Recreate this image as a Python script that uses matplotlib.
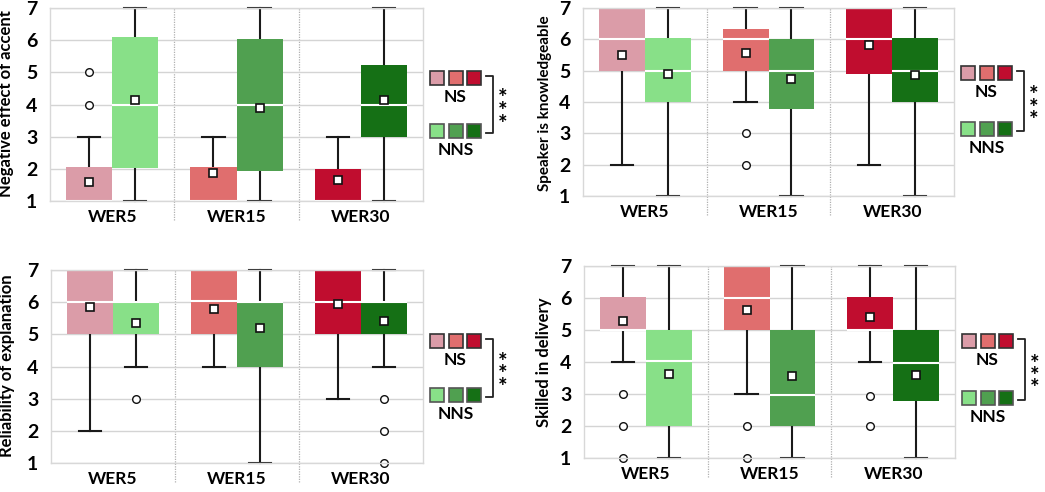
import matplotlib
matplotlib.use("Agg")
import matplotlib.pyplot as plt
from matplotlib.patches import Rectangle
from matplotlib.lines import Line2D

plt.rcParams['font.family'] = ['Lato', 'DejaVu Sans']

groups = ["WER5", "WER15", "WER30"]
ns_colors = ["#db9ca8", "#e06e6e", "#c00d2f"]
nns_colors = ["#88e088", "#50a050", "#157015"]
yticks = [1, 2, 3, 4, 5, 6, 7]

# stats per group: (q1, median, q3, whisker_low, whisker_high, mean)
accent_label = "Negative effect of accent"
accent_ns = [(1, 1, 2.06, 1, 3, 1.6), (1, 1, 2.05, 1, 3, 1.86), (1, 1, 2.01, 1, 3, 1.65)]
accent_ns_fliers = [[4, 5], [], []]
accent_nns = [(2.03, 4, 6.1, 1, 7, 4.14), (1.94, 4, 6.04, 1, 7, 3.9), (2.99, 4, 5.23, 1, 7, 4.15)]
accent_nns_fliers = [[], [], []]

know_label = "Speaker is knowledgeable"
know_ns = [(5, 6, 7, 2, 7, 5.5), (5, 6, 6.32, 4, 7, 5.56), (4.9, 6, 7, 2, 7, 5.83)]
know_ns_fliers = [[], [2, 3], []]
know_nns = [(4, 5, 6.04, 1, 7, 4.88), (3.79, 5, 6.02, 1, 7, 4.73), (4, 5, 6.05, 1, 7, 4.85)]
know_nns_fliers = [[], [], []]

rel_label = "Reliability of explanation"
rel_ns = [(5, 6, 7, 2, 7, 5.84), (5, 6.04, 7, 4, 7, 5.78), (5, 6, 7, 3, 7, 5.95)]
rel_ns_fliers = [[], [], []]
rel_nns = [(5, 6, 6.0, 4, 7, 5.36), (4, 6, 6.02, 1, 7, 5.19), (5, 6, 6.0, 4, 7, 5.4)]
rel_nns_fliers = [[3], [], [1, 2, 3]]

skill_label = "Skilled in delivery"
skill_ns = [(5, 5, 6.04, 4, 7, 5.28), (5, 6, 7, 3, 7, 5.61), (5, 5, 6.04, 4, 7, 5.42)]
skill_ns_fliers = [[1, 2, 3], [1, 2], [2, 2.95]]
skill_nns = [(2, 4.02, 5, 1, 7, 3.63), (2, 2.98, 5, 1, 7, 3.55), (2.77, 3.97, 5, 1, 7, 3.6)]
skill_nns_fliers = [[], [], []]

W, H = 1045, 492
fig = plt.figure(figsize=(W / 100, H / 100), dpi=100)

# panel boxes in pixels: left, right, top, bottom ; legend row centres ; label x, label y, label size
panels = [
    (accent_label, accent_ns, accent_ns_fliers, accent_nns, accent_nns_fliers, (50, 423, 8, 201), (78, 131), 14, 104, 12),
    (know_label, know_ns, know_ns_fliers, know_nns, know_nns_fliers, (583, 954, 8, 196), (73, 129), 552, 103, 11),
    (rel_label, rel_ns, rel_ns_fliers, rel_nns, rel_nns_fliers, (51, 423, 270, 463), (341, 395), 15, 366, 12),
    (skill_label, skill_ns, skill_ns_fliers, skill_nns, skill_nns_fliers, (584, 955, 266, 458), (341, 398), 552, 362, 12),
]


def mkstats(rows, fliers):
    out = []
    for (q1, med, q3, lo, hi, mean), fl in zip(rows, fliers):
        out.append(dict(q1=q1, med=med, q3=q3, whislo=lo, whishi=hi, mean=mean, fliers=fl))
    return out


def fx(px):
    return px / W


def fy(py):
    return 1 - py / H


bw = 0.37
off = 0.185
for label, ns, nsf, nns, nnsf, (l, r, t, b), (yns, ynns), labx, laby, labfs in panels:
    ax = fig.add_axes([fx(l), fy(b), fx(r) - fx(l), fy(t) - fy(b)])
    ax.set_xlim(-0.5, 2.5)
    ax.set_ylim(1, 7)
    ax.set_axisbelow(True)
    ax.grid(axis='y', color='#d4d4d4', lw=1.0)
    for sp in ax.spines.values():
        sp.set_color('#d8d8d8')
        sp.set_linewidth(1.0)
    for series, fl, cols, sgn in ((ns, nsf, ns_colors, -1), (nns, nnsf, nns_colors, 1)):
        st = mkstats(series, fl)
        pos = [i + sgn * off for i in range(3)]
        art = ax.bxp(st, positions=pos, widths=bw, patch_artist=True, showmeans=True,
                     manage_ticks=False, capwidths=0.18,
                     boxprops=dict(linewidth=0),
                     whiskerprops=dict(color='#1a1a1a', lw=1.5),
                     capprops=dict(color='#1a1a1a', lw=1.5),
                     medianprops=dict(color='white', lw=1.5),
                     meanprops=dict(marker='s', markerfacecolor='white', markeredgecolor='#111111',
                                    markersize=6, markeredgewidth=1.2),
                     flierprops=dict(marker='o', markerfacecolor='white', markeredgecolor='#111111',
                                     markersize=5.5, markeredgewidth=1.0))
        for patch, c in zip(art['boxes'], cols):
            patch.set_facecolor(c)
            patch.set_edgecolor(c)
            patch.set_zorder(2)
        for k in ('whiskers', 'caps', 'fliers', 'means'):
            for ln in art[k]:
                ln.set_clip_on(False)
        for k in ('whiskers', 'caps'):
            for ln in art[k]:
                ln.set_zorder(1.5)
        # hide caps that coincide with the box edge
        for j, s in enumerate(st):
            if s['whislo'] >= s['q1']:
                art['caps'][2 * j].set_visible(False)
            if s['whishi'] <= s['q3']:
                art['caps'][2 * j + 1].set_visible(False)
    for xs in (0.5, 1.5):
        ax.plot([xs, xs], [-0.1, 1], transform=ax.get_xaxis_transform(), clip_on=False,
                color='#b0b0b0', lw=0.9, ls=(0, (1, 1)), zorder=0)
    ax.set_yticks(yticks)
    ax.set_yticklabels([str(v) for v in yticks], fontsize=14, fontweight='bold')
    ax.set_xticks(range(3))
    ax.set_xticklabels(groups, fontsize=12.5, fontweight='bold')
    ax.tick_params(length=0, pad=9)
    ax.tick_params(axis='x', pad=6)
    ax.set_ylabel(label, fontsize=labfs, fontweight='bold')
    ax.yaxis.set_label_coords(-(l - labx) / (r - l), (b - laby) / (b - t))

    # legend
    x0 = r + 7
    sq = 14
    gap = 4.5
    for row, cols, ec, txt in ((yns, ns_colors, '#333333', 'NS'), (ynns, nns_colors, '#555555', 'NNS')):
        for i, c in enumerate(cols):
            xl = x0 + i * (sq + gap)
            fig.add_artist(Rectangle((fx(xl), fy(row + sq / 2)), sq / W, sq / H,
                                     facecolor=c, edgecolor=ec, lw=1.2, transform=fig.transFigure))
        fig.text(fx(x0 + 1.5 * sq + gap), fy(row + 19), txt, ha='center', va='center',
                 fontsize=12.5, fontweight='bold')
    bx = x0 + 3 * sq + 2 * gap + 12
    fig.add_artist(Line2D([fx(bx - 7), fx(bx), fx(bx), fx(bx - 7)],
                          [fy(yns - 2), fy(yns - 2), fy(ynns + 2), fy(ynns + 2)],
                          color='#222222', lw=1.3, transform=fig.transFigure))
    yc = (yns + ynns) / 2 + 7
    fig.text(fx(bx + 10), fy(yc), '*\n*\n*', ha='center', va='center', linespacing=0.5,
             fontsize=16, fontweight='bold')

fig.savefig("out.png", dpi=100)
